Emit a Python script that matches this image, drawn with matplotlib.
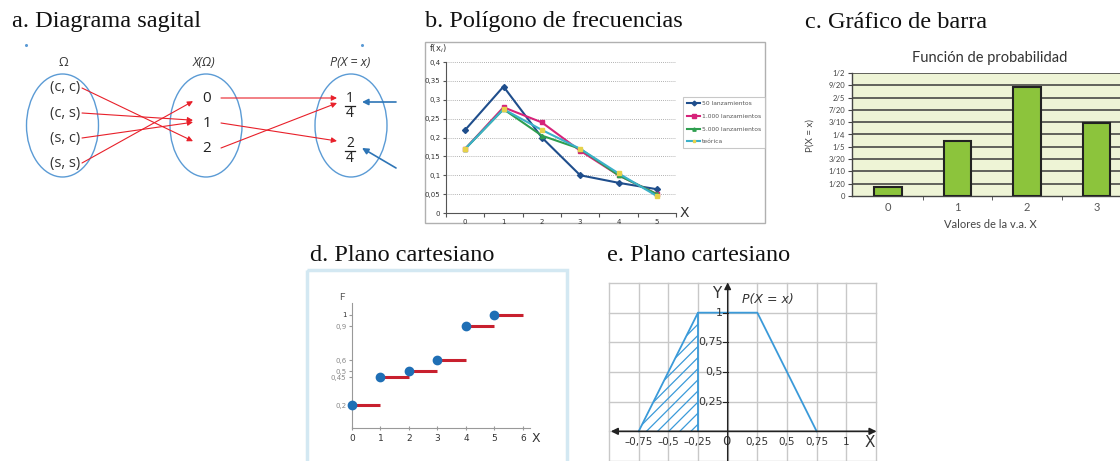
import matplotlib
matplotlib.use("Agg")
import matplotlib.pyplot as plt
from matplotlib.patches import Ellipse, Rectangle
import numpy as np

# ---------------- data ----------------
# a. Diagrama sagital
outcomes = ["(c, c)", "(c, s)", "(s, c)", "(s, s)"]
x_of_outcome = [2, 1, 1, 0]
x_values = [0, 1, 2]
prob_labels = [("1", "4"), ("2", "4")]
prob_of_x = [0, 1, 0]

# b. Polígono de frecuencias
b_x = [0, 1, 2, 3, 4, 5]
b_50 = [0.22, 0.335, 0.20, 0.10, 0.08, 0.063]
b_1000 = [0.17, 0.28, 0.24, 0.165, 0.10, 0.05]
b_5000 = [0.17, 0.275, 0.205, 0.17, 0.10, 0.05]
b_teo = [0.17, 0.275, 0.22, 0.17, 0.105, 0.045]
b_names = ["50 lanzamientos", "1.000 lanzamientos", "5.000 lanzamientos", "teórica"]
b_yticks = [0, 0.05, 0.1, 0.15, 0.2, 0.25, 0.3, 0.35, 0.4]
b_ylabels = ["0", "0,05", "0,1", "0,15", "0,2", "0,25", "0,3", "0,35", "0,4"]

# c. Gráfico de barra
c_x = [0, 1, 2, 3]
c_p = [1/27, 6/27, 12/27, 8/27]
c_yticks = [i * 0.05 for i in range(11)]
c_ylabels = ["0", "1/20", "1/10", "3/20", "1/5", "1/4", "3/10", "7/20", "2/5", "9/20", "1/2"]

# d. Plano cartesiano (función de distribución)
d_x = [0, 1, 2, 3, 4, 5]
d_F = [0.2, 0.45, 0.5, 0.6, 0.9, 1.0]
d_yticks = [0.2, 0.45, 0.5, 0.6, 0.9, 1.0]
d_ylabels = ["0,2", "0,45", "0,5", "0,6", "0,9", "1"]

# e. Plano cartesiano (trapecio)
e_x = [-0.75, -0.25, 0.25, 0.75]
e_y = [0, 1, 1, 0]
e_hatch_x = [-0.75, -0.25]
e_hatch_top = [0, 1]
e_xticks = [-0.75, -0.5, -0.25, 0.25, 0.5, 0.75, 1]
e_xlabels = ["–0,75", "–0,5", "–0,25", "0,25", "0,5", "0,75", "1"]
e_yticks = [0.25, 0.5, 0.75, 1]
e_ylabels = ["0,25", "0,5", "0,75", "1"]

# ---------------- figure ----------------
W, H = 1120, 461
fig = plt.figure(figsize=(W / 100, H / 100), dpi=100)
fig.patch.set_facecolor("white")


def box(l, t, r, b):
    return [l / W, 1 - b / H, (r - l) / W, (b - t) / H]


ov = fig.add_axes([0, 0, 1, 1])
ov.set_xlim(0, W)
ov.set_ylim(H, 0)
ov.axis("off")

serif = "Liberation Serif"
sans = ["Lato", "DejaVu Sans"]
osans = ["Open Sans", "DejaVu Sans"]
titles = [("a. Diagrama sagital", 12, 22), ("b. Polígono de frecuencias", 425, 22),
          ("c. Gráfico de barra", 805, 22), ("d. Plano cartesiano", 310, 255),
          ("e. Plano cartesiano", 607, 255)]
for t, x, y in titles:
    ov.text(x, y, t, family=serif, fontsize=17.5, ha="left", va="center", color="#111")

# ---------- panel a ----------
ell_c = "#5b9bd5"
for cx in (62.5, 206, 351):
    ov.add_patch(Ellipse((cx, 125.5), 72, 103, fill=False, ec=ell_c, lw=1.0))
ov.plot([26, 362], [45, 45], ls="none", marker="o", ms=1.2, color=ell_c)
ov.text(63, 63, "Ω", family=osans, fontsize=9, ha="center", va="center", color="#333")
ov.text(204, 63, "X(Ω)", family=osans, fontsize=9, style="italic", ha="center", va="center", color="#333")
ov.text(350, 63, "P(X = x)", family=osans, fontsize=9, style="italic", ha="center", va="center", color="#333")

oy = [88 + 25 * i for i in range(len(outcomes))]
vy = [98 + 25 * i for i in range(len(x_values))]
py = [105, 150]
for i, o in enumerate(outcomes):
    ov.text(65, oy[i], o, family=osans, fontsize=10.5, ha="center", va="center", color="#333")
for j, v in enumerate(x_values):
    ov.text(207, vy[j], str(v), family=osans, fontsize=11, ha="center", va="center", color="#222")
for k, (n, d) in enumerate(prob_labels):
    ov.text(350, py[k] - 7, n, family=osans, fontsize=10, ha="center", va="center", color="#222")
    ov.text(350, py[k] + 8, d, family=osans, fontsize=10, ha="center", va="center", color="#222")
    ov.plot([345, 355], [py[k] + 1, py[k] + 1], color="#222", lw=0.9)

red = "#e8202a"
ap = dict(arrowstyle="-|>", color=red, lw=0.8, mutation_scale=8, shrinkA=0, shrinkB=0)
for i, xv in enumerate(x_of_outcome):
    j = x_values.index(xv)
    ey = vy[j] - 2 + 0.08 * (oy[i] - vy[j])
    ov.annotate("", xy=(193, ey), xytext=(82, oy[i]), arrowprops=ap)
for j, k in enumerate(prob_of_x):
    target = py[k] - 7
    ey = target + 0.1 * (vy[j] - target)
    ov.annotate("", xy=(337, ey), xytext=(221, vy[j]), arrowprops=ap)
bap = dict(arrowstyle="-|>", color="#2e75b6", lw=1.2, mutation_scale=9, shrinkA=0, shrinkB=0)
ov.annotate("", xy=(362, 102), xytext=(396, 102), arrowprops=bap)
ov.annotate("", xy=(362, 148), xytext=(396, 168), arrowprops=bap)

# ---------- panel b ----------
ov.add_patch(Rectangle((425, 42), 340, 181, fill=False, ec="#b0b0b0", lw=1.0))
axb = fig.add_axes(box(446, 62, 676, 213))
axb.set_facecolor("none")
axb.set_xlim(-0.5, 5.5)
axb.set_ylim(0, 0.4)
for s in ("top", "right"):
    axb.spines[s].set_visible(False)
for s in ("left", "bottom"):
    axb.spines[s].set_color("#555")
    axb.spines[s].set_linewidth(0.8)
axb.set_yticks(b_yticks)
axb.set_yticklabels(b_ylabels)
axb.set_xticks(b_x)
axb.set_xticks(np.arange(-0.5, 6, 1), minor=True)
axb.tick_params(axis="x", which="major", length=0, labelsize=5, labelcolor="#333", pad=4)
axb.tick_params(axis="x", which="minor", length=3, color="#555", width=0.8)
axb.tick_params(axis="y", length=2, labelsize=5, labelcolor="#333", color="#555", pad=2)
for yv in b_yticks[1:]:
    axb.axhline(yv, color="#999", lw=0.6, ls=(0, (1, 1.5)), zorder=0)
axb.plot(b_x, b_50, color="#1f4e8c", lw=1.5, marker="D", ms=3, label=b_names[0])
axb.plot(b_x, b_1000, color="#d6237a", lw=1.5, marker="s", ms=2.8, label=b_names[1])
axb.plot(b_x, b_5000, color="#2e9e4f", lw=1.5, marker="^", ms=3, label=b_names[2])
axb.plot(b_x, b_teo, color="#3bb0c9", lw=1.5, marker="s", ms=2.5, mfc="#e6d24a", mec="#e6d24a", label=b_names[3])
leg = fig.legend(loc="upper left", bbox_to_anchor=(683 / W, 1 - 97 / H), fontsize=4.3,
                 frameon=True, fancybox=False, edgecolor="#bbb", handlelength=2.2,
                 borderaxespad=0, borderpad=0.7, labelspacing=1.25, handletextpad=0.2,
                 markerscale=0.8)
leg.get_frame().set_linewidth(0.8)
for t in leg.get_texts():
    t.set_color("#555")
fig.text(438 / W, 1 - 49 / H, r"f(x$_i$)", fontsize=6, color="#333", ha="center", va="center")
fig.text(684 / W, 1 - 213 / H, "X", family="DejaVu Sans", fontsize=10, color="#333", ha="center", va="center")

# ---------- panel c ----------
axc = fig.add_axes(box(852, 73, 1120, 196))
axc.set_facecolor("#eef4d6")
axc.set_xlim(-0.52, 3.34)
axc.set_ylim(0, 0.5)
for s in ("top", "right"):
    axc.spines[s].set_visible(False)
for s in ("left", "bottom"):
    axc.spines[s].set_color("#444")
    axc.spines[s].set_linewidth(1.0)
for yv in c_yticks[1:]:
    axc.axhline(yv, color="#3a3a3a", lw=1.1, zorder=1)
axc.bar(c_x, c_p, width=0.4, color="#8cc43c", edgecolor="#222", lw=1.5, zorder=3)
axc.set_yticks(c_yticks)
axc.set_yticklabels(c_ylabels)
axc.set_xticks(c_x)
axc.set_xticks([0.5, 1.5, 2.5], minor=True)
axc.tick_params(axis="y", length=3, labelsize=5.5, labelcolor="#444", color="#444", pad=2)
axc.tick_params(axis="x", which="major", length=0, labelsize=8, labelcolor="#555", pad=4)
axc.tick_params(axis="x", which="minor", length=3, color="#444")
for t in axc.get_xticklabels() + axc.get_yticklabels():
    t.set_family(sans)
fig.text(990 / W, 1 - 58 / H, "Función de probabilidad", family=sans, fontsize=10.5, color="#333", ha="center", va="center")
fig.text(810 / W, 1 - 135 / H, "P(X = x)", family=sans, fontsize=7, color="#444", rotation=90, ha="center", va="center")
fig.text(990 / W, 1 - 224 / H, "Valores de la v.a. X", family=sans, fontsize=8, color="#444", ha="center", va="center")

# ---------- panel d ----------
ov.add_patch(Rectangle((307, 270), 260, 200, fill=False, ec="#d3e8f2", lw=2.5))
axd = fig.add_axes(box(352, 303, 530, 428))
axd.set_facecolor("none")
axd.set_xlim(0, 6.25)
axd.set_ylim(0, 1.106)
for s in ("top", "right"):
    axd.spines[s].set_visible(False)
for s in ("left", "bottom"):
    axd.spines[s].set_color("#999")
    axd.spines[s].set_linewidth(0.8)
axd.set_xticks(list(range(7)))
axd.set_yticks(d_yticks)
axd.set_yticklabels(d_ylabels)
axd.tick_params(axis="x", length=3, direction="inout", labelsize=6.5, labelcolor="#333", color="#999", pad=3)
axd.tick_params(axis="y", length=2, labelsize=5, labelcolor="#888", color="#999", pad=2)
axd.get_yticklabels()[-1].set_color("#333")
axd.hlines(d_F, d_x, [x + 1 for x in d_x], color="#c8202e", lw=2.2, zorder=3)
axd.plot(d_x, d_F, ls="none", marker="o", ms=6, color="#1f6fb5", zorder=4, clip_on=False)
fig.text(342 / W, 1 - 298 / H, "F", family=sans, fontsize=7, color="#555", ha="center", va="center")
fig.text(536 / W, 1 - 438 / H, "X", family="DejaVu Sans", fontsize=9, color="#333", ha="center", va="center")

# ---------- panel e ----------
blue = "#3a9ad9"
axe = fig.add_axes(box(609, 283, 876, 461))
axe.set_xlim(-1, 1.25)
axe.set_ylim(-0.25, 1.25)
axe.axis("off")
for gx in np.arange(-1, 1.26, 0.25):
    axe.plot([gx, gx], [-0.25, 1.25], color="#c8c8c8", lw=1.0, zorder=0, clip_on=False)
for gy in np.arange(-0.25, 1.26, 0.25):
    axe.plot([-1, 1.25], [gy, gy], color="#c8c8c8", lw=1.0, zorder=0, clip_on=False)
plt.rcParams["hatch.linewidth"] = 0.9
axe.fill_between(e_hatch_x, 0, e_hatch_top, facecolor="none", edgecolor=blue, hatch="///", lw=0, zorder=2)
axe.plot(e_x, e_y, color=blue, lw=1.3, zorder=3)
axe.plot([e_x[1], e_x[1]], [0, e_y[1]], color=blue, lw=1.3, zorder=3)
axe.annotate("", xy=(-0.985, 0), xytext=(1.255, 0),
             arrowprops=dict(arrowstyle="<|-|>", color="#222", lw=1.2, mutation_scale=10, shrinkA=0, shrinkB=0),
             annotation_clip=False, zorder=4)
axe.annotate("", xy=(0, 1.255), xytext=(0, -0.25),
             arrowprops=dict(arrowstyle="-|>", color="#222", lw=1.0, mutation_scale=10, shrinkA=0, shrinkB=0),
             annotation_clip=False, zorder=4)
for yv, lab in zip(e_yticks, e_ylabels):
    axe.plot([-0.04, 0], [yv, yv], color="#222", lw=0.8, zorder=4)
    axe.text(-0.04, yv, lab, family="DejaVu Sans", fontsize=8, color="#333", ha="right", va="center", zorder=5)
for xv, lab in zip(e_xticks, e_xlabels):
    axe.text(xv, -0.092, lab, family="DejaVu Sans", fontsize=7.5, color="#333", ha="center", va="center")
axe.text(-0.012, -0.085, "0", family="DejaVu Sans", fontsize=9.5, color="#333", ha="center", va="center")
axe.text(1.2, -0.09, "X", family="DejaVu Sans", fontsize=11, color="#333", ha="center", va="center")
axe.text(-0.09, 1.165, "Y", family="DejaVu Sans", fontsize=11, color="#333", ha="center", va="center")
axe.text(0.34, 1.11, "P(X = x)", family="DejaVu Sans", style="italic", fontsize=9, color="#333", ha="center", va="center")

fig.savefig("out.png", dpi=100, facecolor="white")
